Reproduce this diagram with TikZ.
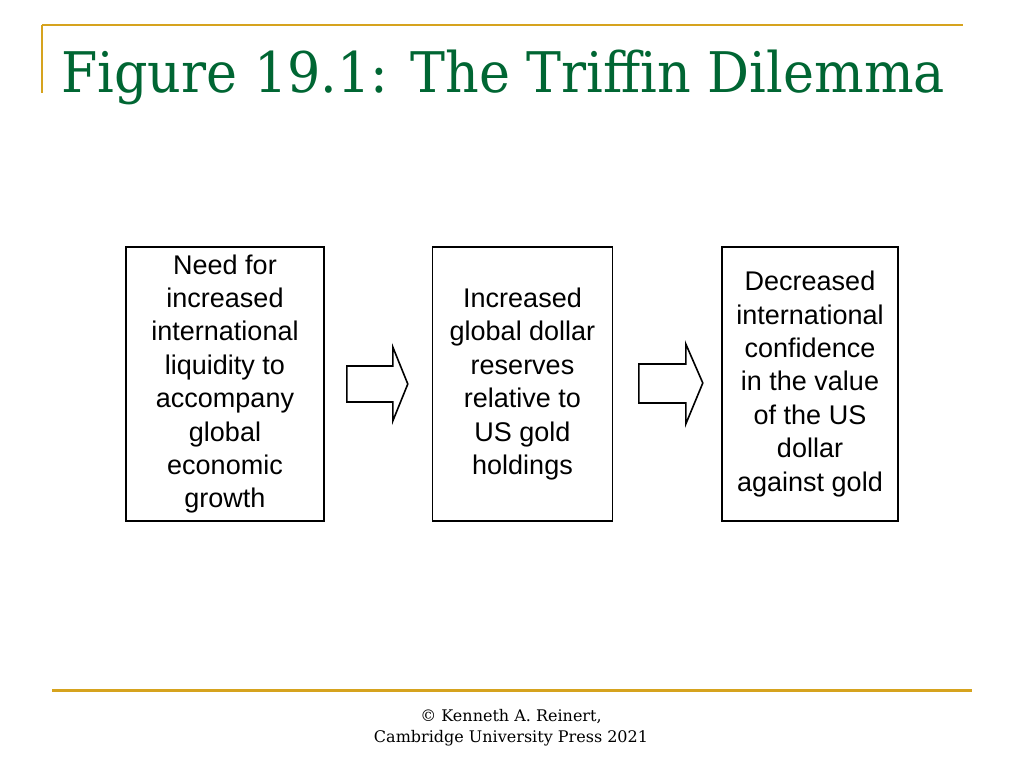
\documentclass[tikz,border=0pt]{standalone}
\usepackage{fontspec}
\setmainfont{DejaVu Serif}
\newfontfamily\boxfont{Liberation Sans}
\definecolor{slideGold}{RGB}{214,163,30}
\definecolor{slideGreen}{RGB}{0,102,51}

\tikzstyle{bS}=[rectangle,draw,line width=1.6pt,inner sep = 0pt,align=center,font=\boxfont\fontsize{27}{33.4}\selectfont]
\tikzstyle{aS}=[draw,line width=1.6pt,fill=white,line join=miter]
\tikzstyle{gS}=[draw=slideGold,line width=2pt]

\begin{document}
\begin{tikzpicture}[x=1pt,y=-1pt]
    \useasboundingbox (0,0) rectangle (1024,768);
    \fill[white] (0,0) rectangle (1024,768);

    % slide frame
    \draw[gS] (42,25) -- (963,25);
    \draw[gS] (42,25) -- (42,93);
    \draw[gS,line width=3pt] (52,690) -- (972,690);
    \draw (58,92) node[anchor=base west,xscale=0.935,text=slideGreen,font=\fontsize{56}{60}\selectfont] (title) {Figure 19.1: The Triffin Dilemma};

    % the three boxes
    \draw (225,384) node[bS,minimum width=198pt,minimum height=274pt] (b1) {Need for\\increased\\international\\liquidity to\\accompany\\global\\economic\\ growth};
    \draw (522.5,384) node[bS,minimum width=180pt,minimum height=274pt] (b2) {Increased\\global dollar\\reserves\\relative to\\US gold\\ holdings};
    \draw (810,384) node[bS,minimum width=176pt,minimum height=274pt] (b3) {Decreased\\international\\confidence\\in the value\\of the US\\dollar\\ against gold};

    % block arrows
    \path (b1.east) ++(22,0) coordinate (a1);
    \path (b2.east) ++(25.5,-1) coordinate (a2);
    \draw[aS] (a1) ++(0,-18) -- ++(46,0) -- ++(0,-19) -- ++(15,37) -- ++(-15,37) -- ++(0,-19) -- ++(-46,0) -- cycle;
    \draw[aS] (a2) ++(0,-19) -- ++(47,0) -- ++(0,-20) -- ++(17,39) -- ++(-17,41) -- ++(0,-21) -- ++(-47,0) -- cycle;

    \draw (511,728) node[align=center,font=\fontsize{16}{21}\selectfont] (credit) {\textcopyright{} Kenneth A. Reinert,\\Cambridge University Press 2021};
\end{tikzpicture}
\end{document}
